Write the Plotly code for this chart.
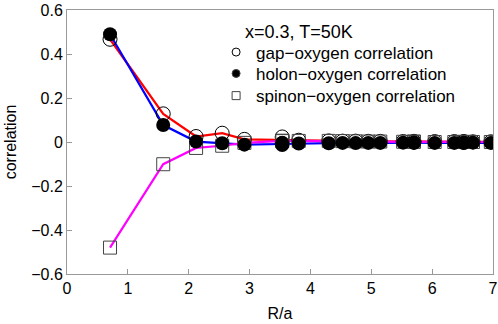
import plotly.graph_objects as go
import pandas as pd

# R/a distances
R = [0.707, 1.581, 2.121, 2.550, 2.915, 3.536, 3.536, 3.808, 4.301, 4.528, 4.743,
     4.950, 5.148, 5.523, 5.701, 5.701, 6.042, 6.364, 6.519, 6.519, 6.671, 6.964]

gap_oxygen = [0.467, 0.128, 0.025, 0.040, 0.012, 0.023, -0.006, 0.008, 0.005, 0.004, 0.004,
              0.003, 0.003, 0.002, 0.003, 0.001, 0.002, 0.002, 0.001, 0.002, 0.001, 0.001]

holon_oxygen = [0.490, 0.077, 0.002, -0.006, -0.012, -0.004, -0.014, -0.007, -0.006, -0.004, -0.005,
                -0.004, -0.004, -0.003, -0.004, -0.002, -0.004, -0.004, -0.003, -0.005, -0.003, -0.004]

spinon_oxygen = [-0.480, -0.101, -0.027, -0.017, -0.004, 0.004, 0.006, 0.005, 0.005, 0.004, 0.003,
                 0.002, 0.002, 0.001, 0.001, 0.002, 0.000, 0.000, 0.001, 0.000, 0.000, 0.000]

y_tick_vals = [-0.6, -0.4, -0.2, 0, 0.2, 0.4, 0.6]
y_tick_text = ["\u22120.6", "\u22120.4", "\u22120.2", "0", "0.2", "0.4", "0.6"]
x_tick_vals = [0, 1, 2, 3, 4, 5, 6, 7]

legend_title = "x=0.3, T=50K"
names = ["gap\u2212oxygen correlation", "holon\u2212oxygen correlation", "spinon\u2212oxygen correlation"]

df = pd.DataFrame({"R": R, "gap": gap_oxygen, "holon": holon_oxygen, "spinon": spinon_oxygen})
mean = df.groupby("R", as_index=False).mean()

FONT = "Liberation Sans, Arial, sans-serif"
LEG_FONT = 17
fig = go.Figure()

# lines (averaged per distance)
for col, color in [("gap", "#ff0000"), ("holon", "#0000ff"), ("spinon", "#ff00ff")]:
    fig.add_trace(go.Scatter(x=mean["R"], y=mean[col], mode="lines",
                             line=dict(color=color, width=2.2), showlegend=False, hoverinfo="skip"))

# markers
fig.add_trace(go.Scatter(x=df["R"], y=df["gap"], mode="markers", showlegend=False,
                         marker=dict(symbol="circle-open", size=14, color="black", line=dict(width=1))))
fig.add_trace(go.Scatter(x=df["R"], y=df["spinon"], mode="markers", showlegend=False,
                         marker=dict(symbol="square-open", size=13, color="#444444", line=dict(width=1))))
fig.add_trace(go.Scatter(x=df["R"], y=df["holon"], mode="markers", showlegend=False,
                         marker=dict(symbol="circle", size=14, color="black")))

# legend entries, one legend each for exact spacing
leg_y = [0.839, 0.758, 0.674]
for i, (nm, sym, col) in enumerate([(names[0], "circle-open", "black"), (names[1], "circle", "black"),
                                    (names[2], "square-open", "#444444")]):
    lg = "legend" if i == 0 else f"legend{i+1}"
    fig.add_trace(go.Scatter(x=[None], y=[None], mode="markers", name=nm, legend=lg,
                             marker=dict(symbol=sym, size=8, color=col, line=dict(width=1))))
    fig.update_layout({lg: dict(x=0.35, y=leg_y[i], xanchor="left", yanchor="middle",
                                bgcolor="rgba(0,0,0,0)", font=dict(family=FONT, size=LEG_FONT),
                                itemsizing="trace")})

fig.add_annotation(text=legend_title, xref="paper", yref="paper", x=0.412, y=0.917,
                   xanchor="left", yanchor="middle", showarrow=False,
                   font=dict(family=FONT, size=18, color="black"))

axis_common = dict(showline=True, linecolor="#999999", linewidth=1, mirror=True,
                   ticks="inside", ticklen=5, tickcolor="#999999", showgrid=False,
                   zeroline=False, automargin=False,
                   tickfont=dict(family=FONT, size=16, color="black"))

fig.update_layout(
    width=498, height=324,
    margin=dict(l=67, r=5, t=10, b=50),
    paper_bgcolor="white", plot_bgcolor="white",
    font=dict(family=FONT, size=16, color="black"),
    xaxis=dict(range=[0, 7], tickvals=x_tick_vals, title=dict(text="R/a", standoff=11,
               font=dict(family=FONT, size=16)), **axis_common),
    yaxis=dict(range=[-0.6, 0.6], tickvals=y_tick_vals, ticktext=y_tick_text,
               title=dict(text="correlation", standoff=10, font=dict(family=FONT, size=16)),
               **axis_common),
)

fig.write_html("out.html", config={"displayModeBar": False},
               post_script="document.body.style.margin='0px';")
